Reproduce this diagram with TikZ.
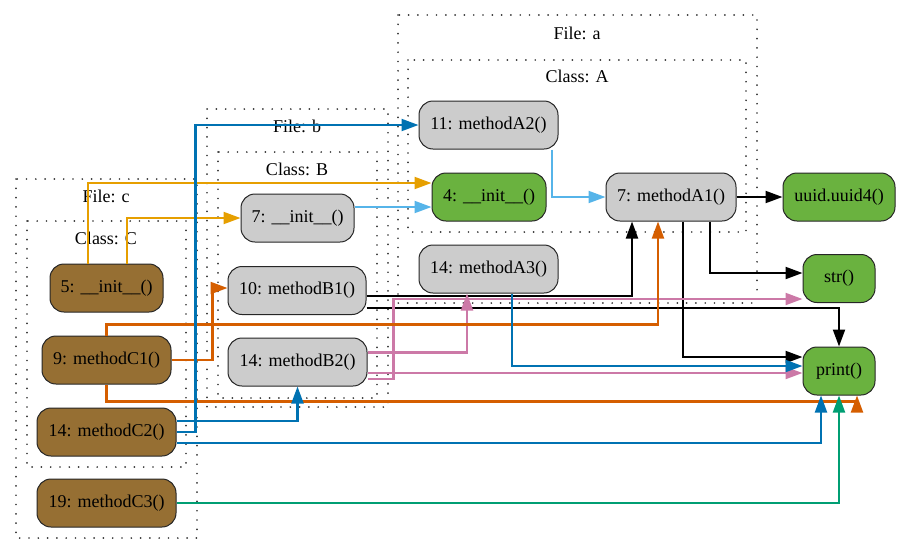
\documentclass[tikz,border=0pt]{standalone}
\usepackage{fontspec}
\setmainfont{Liberation Serif}
\usetikzlibrary{calc,arrows.meta}
\definecolor{cOrange}{HTML}{E69F00}
\definecolor{cSky}{HTML}{56B4E9}
\definecolor{cBlue}{HTML}{0072B2}
\definecolor{cVerm}{HTML}{D55E00}
\definecolor{cPink}{HTML}{CC79A7}
\definecolor{cGreen}{HTML}{009E73}
\definecolor{fBrown}{HTML}{966F33}
\definecolor{fGray}{HTML}{CCCCCC}
\definecolor{fGreen}{HTML}{6AB23F}
\tikzset{
  label font/.style={font=\fontsize{18}{20}\selectfont, inner sep=0pt},
  fn/.style={label font, draw=black!85, line width=1pt, rounded corners=14pt,
    minimum height=48pt},
  brownfn/.style={fn, fill=fBrown},
  grayfn/.style={fn, fill=fGray},
  greenfn/.style={fn, fill=fGreen},
  groupbox/.style={line width=1.9pt, line cap=round, dash pattern=on 0pt off 9.3pt,
    black!80},
  callline/.style={line width=2.1pt, -{Triangle[length=17pt,width=12pt]}},
}
\begin{document}
\begin{tikzpicture}[x=1pt,y=-1pt]
\useasboundingbox (0,0) rectangle (900,555);

% module / class groupings
\draw[groupbox] (16,179) rectangle (197,538);
\node[label font] (lfc) at (106,196) {File: c};
\draw[groupbox] (27,221) rectangle (186,467);
\node[label font] (lcc) at (106,238) {Class: C};
\draw[groupbox] (207,109) rectangle (388,407);
\node[label font] (lfb) at (297,126) {File: b};
\draw[groupbox] (218,152) rectangle (377,398);
\node[label font] (lcb) at (297,169) {Class: B};
\draw[groupbox] (398,15) rectangle (757,303);
\node[label font] (lfa) at (577,33) {File: a};
\draw[groupbox] (408,60) rectangle (746,232);
\node[label font] (lca) at (577,76) {Class: A};

% functions
\node[brownfn, minimum width=113pt] (c_init) at (106.5,288) {5: \_\_init\_\_()};
\node[brownfn, minimum width=129pt] (c_m1) at (106.5,360) {9: methodC1()};
\node[brownfn, minimum width=139pt] (c_m2) at (106.5,432) {14: methodC2()};
\node[brownfn, minimum width=139pt] (c_m3) at (106.5,503) {19: methodC3()};

\node[grayfn, minimum width=113pt] (b_init) at (297.5,218) {7: \_\_init\_\_()};
\node[grayfn, minimum width=138pt] (b_m1) at (297,290.5) {10: methodB1()};
\node[grayfn, minimum width=139pt] (b_m2) at (297.5,362) {14: methodB2()};

\node[grayfn, minimum width=139pt] (a_m2) at (488.5,125) {11: methodA2()};
\node[greenfn, minimum width=114pt] (a_init) at (489,197) {4: \_\_init\_\_()};
\node[grayfn, minimum width=130pt] (a_m1) at (671,197) {7: methodA1()};
\node[grayfn, minimum width=139pt] (a_m3) at (488.5,269) {14: methodA3()};

\node[greenfn, minimum width=112pt] (uuid) at (839,197) {uuid.uuid4()};
\node[greenfn, minimum width=72pt] (str) at (839,278.5) {str()};
\node[greenfn, minimum width=72pt] (print) at (839,371) {print()};

% calls
\draw[callline, cOrange] ($(c_init.north)+(-18.5,0)$) |- ($(a_init.west)+(0,-14)$);
\draw[callline, cOrange] ($(c_init.north)+(20.5,0)$) |- (b_init.west);
\draw[callline, cSky] ($(b_init.east)+(0,-11)$) -- ($(a_init.west)+(0,10)$);
\draw[callline, cSky] ($(a_m2.south)+(63.5,0)$) |- (a_m1.west);

\draw[callline, black] (a_m1.east) -- (uuid.west);
\draw[callline, black] ($(a_m1.south)+(39,0)$) |- ($(str.west)+(0,-5.5)$);
\draw[callline, black] ($(a_m1.south)+(12,0)$) |- ($(print.west)+(0,-14)$);
\draw[callline, black] ($(b_m1.east)+(0,5.5)$) -| ($(a_m1.south)+(-39,0)$);
\draw[callline, black] ($(b_m1.east)+(0,17.5)$) -| (print.north);

\draw[callline, cPink] ($(b_m2.east)+(0,-9.5)$) -| ($(a_m3.south)+(-21.5,0)$);
\draw[callline, cPink] ($(b_m2.east)+(0,11)$) -- ($(print.west)+(0,2)$);
\draw[callline, cPink] ($(b_m2.east)+(0,17)$) -- ++(26,0) |- ($(str.west)+(0,20.5)$);

\draw[callline, cVerm] (c_m1.east) -- ++(41,0) |- ($(b_m1.west)+(0,-2.5)$);
\draw[callline, cVerm] (c_m1.north) -- ++(0,-11) -| ($(a_m1.south)+(-13,0)$);
\draw[callline, cVerm] (c_m1.south) -- ++(0,17) -| ($(print.south)+(18,0)$);

\draw[callline, cBlue] (c_m2.east) -- ++(19,0) |- (a_m2.west);
\draw[callline, cBlue] ($(c_m2.east)+(0,-11)$) -| (b_m2.south);
\draw[callline, cBlue] ($(c_m2.east)+(0,11)$) -| ($(print.south)+(-18,0)$);
\draw[callline, cBlue] ($(a_m3.south)+(23.5,0)$) |- ($(print.west)+(0,-5)$);

\draw[callline, cGreen] (c_m3.east) -| (print.south);
\end{tikzpicture}
\end{document}
